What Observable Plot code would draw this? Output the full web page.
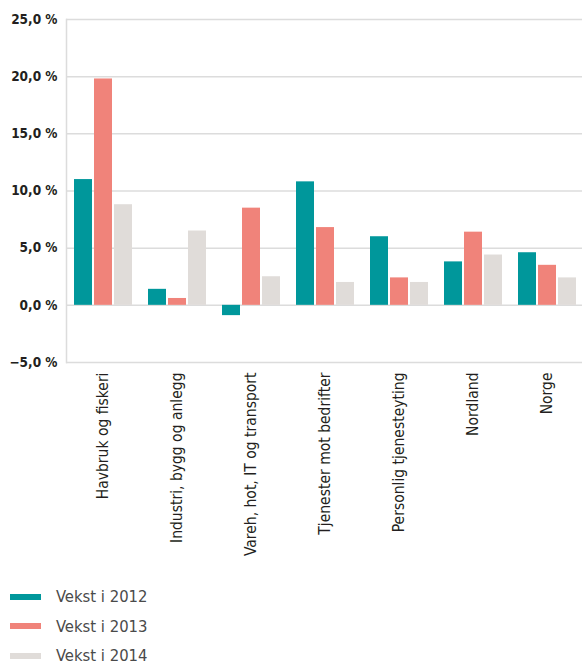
<!DOCTYPE html>
<html>
<head>
<meta charset="utf-8">
<script src="https://cdn.jsdelivr.net/npm/d3@7"></script>
<script src="https://cdn.jsdelivr.net/npm/@observablehq/plot@0.6"></script>
<style>
  body { margin: 0; background: #fff; font-family: "DejaVu Sans Condensed", "DejaVu Sans", sans-serif; overflow: hidden; }
  #legend { margin-top: 7px; padding-left: 10px; }
  .row { display: flex; align-items: center; height: 29.5px; }
  .sw { width: 31px; height: 6px; margin-right: 15px; }
  .lab { font-size: 16.5px; color: #4a4a4a; }
</style>
</head>
<body>
<div id="chart"></div>
<div id="legend"></div>
<script>
const categories = ["Havbruk og fiskeri", "Industri, bygg og anlegg", "Vareh, hot, IT og transport", "Tjenester mot bedrifter", "Personlig tjenesteyting", "Nordland", "Norge"];
const series = ["Vekst i 2012", "Vekst i 2013", "Vekst i 2014"];
const vekst2012 = [11.0, 1.4, -0.9, 10.8, 6.0, 3.8, 4.6];
const vekst2013 = [19.8, 0.6, 8.5, 6.8, 2.4, 6.4, 3.5];
const vekst2014 = [8.8, 6.5, 2.5, 2.0, 2.0, 4.4, 2.4];
const yTicks = [-5, 0, 5, 10, 15, 20, 25];
const colors = ["#00979b", "#f0837a", "#e0dcd9"];

const allValues = [vekst2012, vekst2013, vekst2014];
const width = 582, marginLeft = 66, marginRight = -2;
const step = (width - marginLeft - marginRight) / categories.length;
const barW = 18, gap = 2;
const inset = (step - barW) / 2;

const fmt = v => d3.format(".1f")(v).replace(".", ",") + " %";

const marks = [
  Plot.gridY(yTicks, {stroke: "#dcdcdc", strokeOpacity: 1, strokeWidth: 1.5}),
  Plot.frame({anchor: "left", stroke: "#dcdcdc", strokeWidth: 1.5})
];
series.forEach((s, i) => {
  const data = categories.map((c, j) => ({cat: c, value: allValues[i][j], series: s}));
  marks.push(Plot.barY(data, {
    x: "cat", y: "value", fill: colors[i],
    insetLeft: inset, insetRight: inset, dx: (i - 1) * (barW + gap)
  }));
});

const chart = Plot.plot({
  width, height: 575,
  marginLeft, marginRight, marginTop: 19, marginBottom: 213,
  style: {fontFamily: "'DejaVu Sans Condensed', 'DejaVu Sans', sans-serif", background: "#fff", overflow: "visible"},
  x: {domain: categories, padding: 0, tickSize: 0, tickPadding: 10, tickRotate: -90, label: null},
  y: {domain: [-5, 25], ticks: yTicks, tickSize: 0, tickPadding: 9, tickFormat: fmt, label: null},
  marks
});
d3.select(chart).selectAll("g[aria-label='y-axis tick label']")
  .attr("font-size", 13.5).attr("font-weight", "bold").attr("fill", "#231f20");
d3.select(chart).selectAll("g[aria-label='x-axis tick label']")
  .attr("font-size", 15.5).attr("fill", "#231f20");
document.getElementById("chart").appendChild(chart);

const leg = d3.select("#legend");
series.forEach((s, i) => {
  const r = leg.append("div").attr("class", "row");
  r.append("div").attr("class", "sw").style("background", colors[i]);
  r.append("div").attr("class", "lab").text(s);
});
</script>
</body>
</html>
